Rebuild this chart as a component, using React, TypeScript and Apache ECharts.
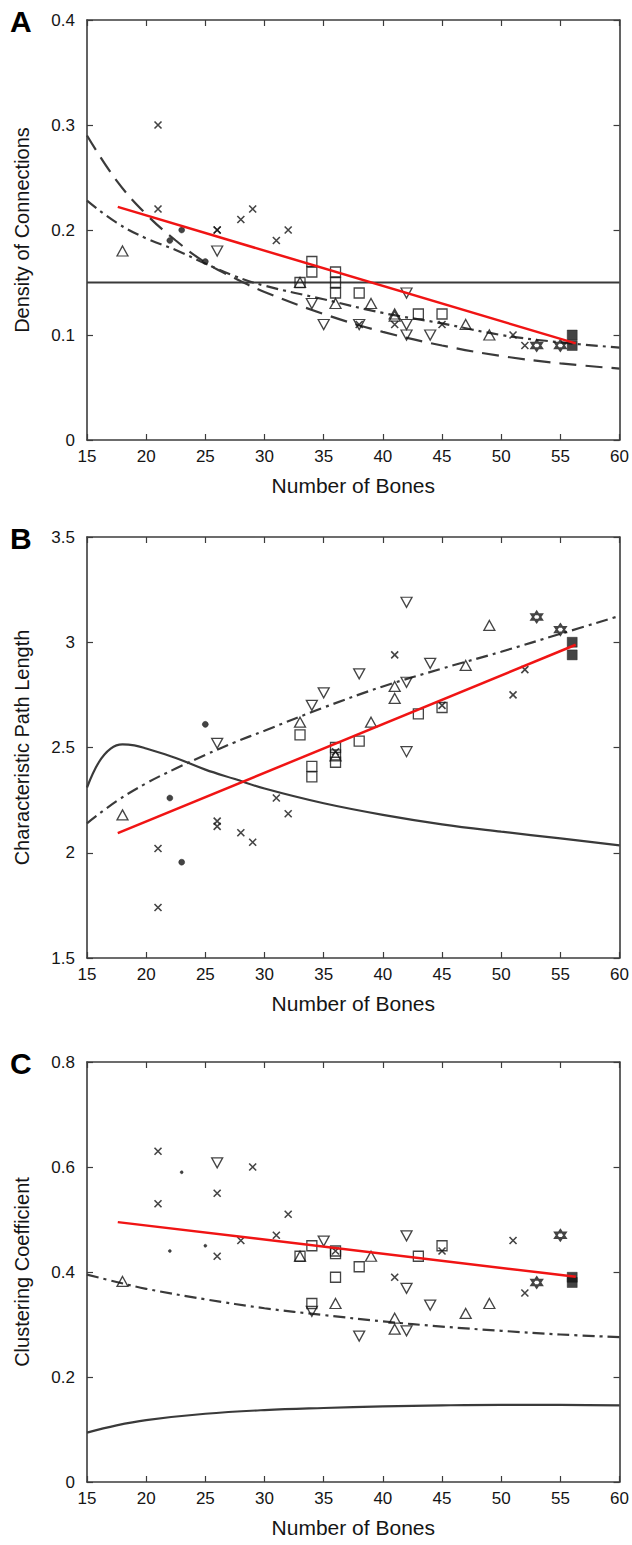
import React, { useEffect, useRef } from "react";
import * as echarts from "echarts";

// ---------- shared ----------
const boneRange = [15, 60];

// ---------- Panel A : Density of Connections ----------
const aRed = [[17.6, 0.222], [56.3, 0.092]];
const aFlat = [[15, 0.15], [60, 0.15]];
const aDashed = [[15, 0.29], [17.5, 0.247], [20, 0.215], [22.5, 0.19], [25, 0.169], [27.5, 0.154], [30, 0.141], [35, 0.12], [40, 0.103], [45, 0.09], [50, 0.08], [55, 0.073], [60, 0.068]];
const aDashDot = [[15, 0.228], [17.5, 0.207], [20, 0.192], [22.5, 0.181], [25, 0.168], [27.5, 0.156], [30, 0.147], [35, 0.134], [40, 0.121], [45, 0.111], [50, 0.1], [55, 0.093], [60, 0.088]];
const aCross = [[21, 0.30], [21, 0.22], [26, 0.20], [26, 0.20], [28, 0.21], [29, 0.22], [31, 0.19], [32, 0.20], [38, 0.11], [41, 0.11], [45, 0.11], [51, 0.10], [52, 0.09]];
const aDot = [[22, 0.19], [23, 0.20], [25, 0.17]];
const aTriUp = [[18, 0.18], [33, 0.15], [36, 0.13], [39, 0.13], [41, 0.12], [41, 0.118], [47, 0.11], [49, 0.10]];
const aTriDown = [[26, 0.18], [34, 0.13], [35, 0.11], [38, 0.11], [42, 0.14], [42, 0.11], [42, 0.10], [44, 0.10]];
const aSquare = [[33, 0.15], [34, 0.17], [34, 0.16], [36, 0.16], [36, 0.15], [36, 0.14], [38, 0.14], [43, 0.12], [45, 0.12]];
const aStar = [[53, 0.09], [55, 0.09]];
const aFilledSq = [[56, 0.10], [56, 0.09]];

// ---------- Panel B : Characteristic Path Length ----------
const bRed = [[17.6, 2.093], [56.3, 2.988]];
const bSolid = [[15, 2.31], [16, 2.43], [17, 2.495], [18, 2.515], [19, 2.51], [20, 2.495], [22.5, 2.45], [25, 2.395], [27.5, 2.35], [30, 2.305], [35, 2.235], [40, 2.18], [45, 2.135], [50, 2.1], [55, 2.068], [60, 2.035]];
const bDashDot = [[15, 2.14], [17.5, 2.245], [20, 2.33], [22.5, 2.4], [25, 2.465], [27.5, 2.525], [30, 2.58], [35, 2.69], [40, 2.79], [45, 2.875], [50, 2.955], [55, 3.04], [60, 3.125]];
const bCross = [[21, 2.02], [21, 1.74], [26, 2.15], [26, 2.125], [28, 2.095], [29, 2.05], [31, 2.26], [32, 2.185], [36, 2.48], [41, 2.94], [45, 2.70], [51, 2.75], [52, 2.87]];
const bDot = [[22, 2.26], [23, 1.955], [25, 2.61]];
const bTriUp = [[18, 2.18], [33, 2.62], [36, 2.46], [39, 2.62], [41, 2.79], [41, 2.733], [47, 2.89], [49, 3.08]];
const bTriDown = [[26, 2.52], [34, 2.70], [35, 2.76], [38, 2.85], [42, 3.19], [42, 2.81], [42, 2.48], [44, 2.90]];
const bSquare = [[33, 2.56], [34, 2.41], [34, 2.36], [36, 2.50], [36, 2.465], [36, 2.43], [38, 2.53], [43, 2.66], [45, 2.69]];
const bStar = [[53, 3.12], [55, 3.06]];
const bFilledSq = [[56, 3.00], [56, 2.94]];

// ---------- Panel C : Clustering Coefficient ----------
const cRed = [[17.6, 0.495], [56.3, 0.391]];
const cSolid = [[15, 0.094], [17.5, 0.108], [20, 0.118], [25, 0.13], [30, 0.137], [35, 0.141], [40, 0.144], [45, 0.146], [50, 0.147], [55, 0.147], [60, 0.146]];
const cDashDot = [[15, 0.395], [17.5, 0.381], [20, 0.368], [25, 0.348], [30, 0.331], [35, 0.318], [40, 0.306], [45, 0.296], [50, 0.288], [55, 0.281], [60, 0.276]];
const cCross = [[21, 0.63], [21, 0.53], [26, 0.55], [26, 0.43], [28, 0.46], [29, 0.60], [31, 0.47], [32, 0.51], [36, 0.44], [41, 0.39], [45, 0.44], [51, 0.46], [52, 0.36]];
const cDot = [[22, 0.44], [23, 0.59], [25, 0.45]];
const cTriUp = [[18, 0.382], [33, 0.43], [36, 0.34], [39, 0.43], [41, 0.312], [41, 0.291], [47, 0.321], [49, 0.34]];
const cTriDown = [[26, 0.608], [34, 0.325], [35, 0.459], [38, 0.278], [42, 0.469], [42, 0.369], [42, 0.288], [44, 0.337]];
const cSquare = [[33, 0.43], [34, 0.45], [34, 0.34], [36, 0.44], [36, 0.435], [36, 0.39], [38, 0.41], [43, 0.43], [45, 0.45]];
const cStar = [[53, 0.38], [55, 0.47]];
const cFilledSq = [[56, 0.39], [56, 0.38]];

const panelLetters = ["A", "B", "C"];
const yNames = ["Density of Connections", "Characteristic Path Length", "Clustering Coefficient"];
const xName = "Number of Bones";
const yRanges = [[0, 0.4, 0.1], [1.5, 3.5, 0.5], [0, 0.8, 0.2]];

const FONT = "Liberation Sans, Arial, Helvetica, sans-serif";
const AXIS = "#3c3c3c";
const CURVE = "#3a3a3a";
const INK = "#151515";

const CROSS = "path://M0,0L10,10M10,0L0,10";
const TRI_DOWN = "path://M0,0L10,0L5,8.66Z";
const HEX = "path://M5,0L9.33,7.5L0.67,7.5Z M5,10L0.67,2.5L9.33,2.5Z";

const grids = [
  { left: 87, top: 20, width: 533, height: 420 },
  { left: 87, top: 537, width: 533, height: 421 },
  { left: 87, top: 1062, width: 533, height: 420 },
];

export default function App() {
  const ref = useRef<HTMLDivElement>(null);
  useEffect(() => {
    document.body.style.margin = "0";
    const chart = echarts.init(ref.current!, null, { renderer: "svg" });

    const xAxis: any[] = [];
    const yAxis: any[] = [];
    grids.forEach((g, i) => {
      const common = {
        type: "value",
        gridIndex: i,
        min: boneRange[0],
        max: boneRange[1],
        interval: 5,
        splitLine: { show: false },
        axisLine: { show: true, onZero: false, lineStyle: { color: AXIS, width: 1.6 } },
        axisTick: { show: true, inside: true, length: 6, lineStyle: { color: AXIS, width: 1.2 } },
      };
      xAxis.push({
        ...common,
        position: "bottom",
        name: xName,
        nameLocation: "middle",
        nameGap: 35,
        nameTextStyle: { fontFamily: FONT, fontSize: 21, color: INK },
        axisLabel: { show: true, fontFamily: FONT, fontSize: 17, color: INK, margin: 8 },
      });
      xAxis.push({ ...common, position: "top", axisLabel: { show: false } });
      const [mn, mx, iv] = yRanges[i];
      const ycommon = {
        type: "value",
        gridIndex: i,
        min: mn,
        max: mx,
        interval: iv,
        splitLine: { show: false },
        axisLine: { show: true, onZero: false, lineStyle: { color: AXIS, width: 1.6 } },
        axisTick: { show: true, inside: true, length: 6, lineStyle: { color: AXIS, width: 1.2 } },
      };
      yAxis.push({
        ...ycommon,
        position: "left",
        name: yNames[i],
        nameLocation: "middle",
        nameGap: 55,
        nameTextStyle: { fontFamily: FONT, fontSize: 20, color: INK },
        axisLabel: { show: true, fontFamily: FONT, fontSize: 17, color: INK, margin: 12 },
      });
      yAxis.push({ ...ycommon, position: "right", axisLabel: { show: false } });
    });

    const line = (i: number, data: number[][], style: any, z = 2) => ({
      type: "line",
      xAxisIndex: i * 2,
      yAxisIndex: i * 2,
      data,
      smooth: 0.4,
      showSymbol: false,
      symbol: "none",
      lineStyle: style,
      z,
      silent: true,
    });
    const scat = (i: number, data: number[][], symbol: string, size: any, style: any) => ({
      type: "scatter",
      xAxisIndex: i * 2,
      yAxisIndex: i * 2,
      data,
      symbol,
      symbolSize: size,
      itemStyle: style,
      z: 3,
      silent: true,
    });

    const openStyle = { color: "rgba(0,0,0,0)", borderColor: INK, borderWidth: 1.3 };
    const crossStyle = { color: "rgba(0,0,0,0)", borderColor: INK, borderWidth: 1.6 };
    const fillStyle = { color: INK, borderColor: INK, borderWidth: 0.5 };
    const redStyle = { color: "#f01414", width: 2.5, type: "solid" };
    const solidStyle = { color: CURVE, width: 2.2, type: "solid" };
    const dashStyle = { color: CURVE, width: 2.2, type: [17, 9] };
    const dashDotStyle = { color: CURVE, width: 2.2, type: [12, 5, 3, 5] };

    const panelSeries = (i: number, m: any) => [
      scat(i, m.cross, CROSS, 7, crossStyle),
      scat(i, m.dot, "circle", m.dotSize, fillStyle),
      scat(i, m.triUp, "triangle", [11, 10], openStyle),
      scat(i, m.triDown, TRI_DOWN, [11, 10], openStyle),
      scat(i, m.square, "rect", 10, openStyle),
      scat(i, m.star, HEX, 11, { color: "rgba(0,0,0,0)", borderColor: INK, borderWidth: 1.8 }),
      scat(i, m.filled, "rect", 10, fillStyle),
    ];

    const series: any[] = [
      line(0, aFlat, solidStyle),
      line(0, aDashed, dashStyle),
      line(0, aDashDot, dashDotStyle),
      ...panelSeries(0, { cross: aCross, dot: aDot, dotSize: 6, triUp: aTriUp, triDown: aTriDown, square: aSquare, star: aStar, filled: aFilledSq }),
      line(0, aRed, redStyle, 4),
      line(1, bSolid, solidStyle),
      line(1, bDashDot, dashDotStyle),
      ...panelSeries(1, { cross: bCross, dot: bDot, dotSize: 6, triUp: bTriUp, triDown: bTriDown, square: bSquare, star: bStar, filled: bFilledSq }),
      line(1, bRed, redStyle, 4),
      line(2, cSolid, solidStyle),
      line(2, cDashDot, dashDotStyle),
      ...panelSeries(2, { cross: cCross, dot: cDot, dotSize: 3, triUp: cTriUp, triDown: cTriDown, square: cSquare, star: cStar, filled: cFilledSq }),
      line(2, cRed, redStyle, 4),
    ];

    const graphic = grids.map((g, i) => ({
      type: "text",
      left: 10,
      top: g.top - 14,
      style: { text: panelLetters[i], font: `bold 30px ${FONT}`, fill: "#000" },
    }));

    chart.setOption({
      animation: false,
      backgroundColor: "#fff",
      grid: grids,
      xAxis,
      yAxis,
      series,
      graphic,
    });
    return () => chart.dispose();
  }, []);
  return <div ref={ref} style={{ width: 632, height: 1545 }} />;
}
